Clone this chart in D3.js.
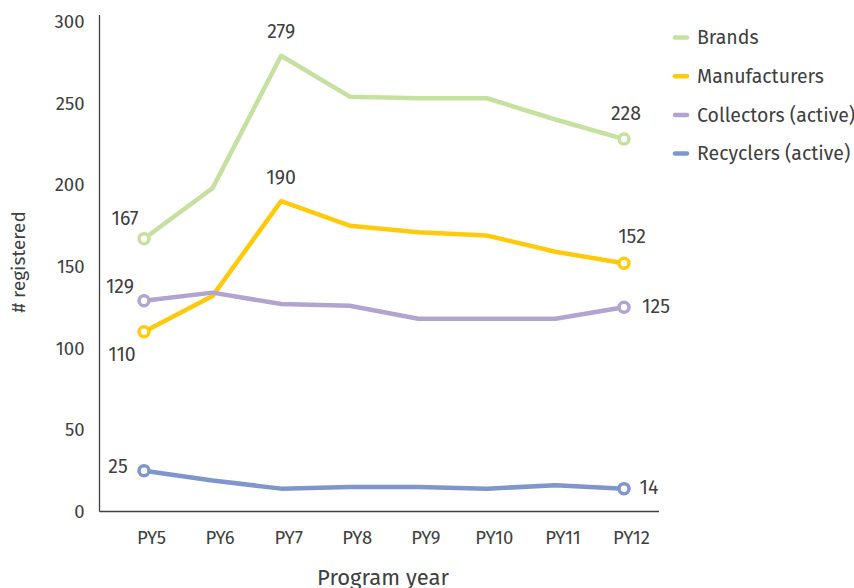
<!DOCTYPE html>
<html>
<head>
<meta charset="utf-8">
<script src="https://cdn.jsdelivr.net/npm/d3@7"></script>
<style>
	body { margin: 0; background: #fff; }
	svg text { font-family: "Fira Sans", "Noto Sans", "Open Sans", sans-serif; fill: #404040; }
</style>
</head>
<body>
<svg id="chart" width="854" height="588"></svg>
<script>
// ---- data ----
var years = ["PY5", "PY6", "PY7", "PY8", "PY9", "PY10", "PY11", "PY12"];
var seriesNames = ["Brands", "Manufacturers", "Collectors (active)", "Recyclers (active)"];
var brands        = [167, 198, 279, 254, 253, 253, 240, 228];
var manufacturers = [110, 132, 190, 175, 171, 169, 159, 152];
var collectors    = [129, 134, 127, 126, 118, 118, 118, 125];
var recyclers     = [25, 19, 14, 15, 15, 14, 16, 14];
var yTicks = [0, 50, 100, 150, 200, 250, 300];

// which points get a value label
var labelled = [
	[0, 2, 7],
	[0, 2, 7],
	[0, 7],
	[0, 7]
];

var colors = ["#c6e0a0", "#ffca0c", "#b2a4d0", "#7e96cc"];

// label placement (dx, dy relative to the point), per series, per labelled index
var labelOffset = [
	{0: [-19, -21], 2: [0, -25], 7: [2, -26]},
	{0: [-22, 22], 2: [0, -24], 7: [8, -27]},
	{0: [-24, -15], 7: [32, -1]},
	{0: [-26, -4], 7: [25, -1]}
];

var allSeries = [brands, manufacturers, collectors, recyclers];

var svg = d3.select("#chart");

// scales
var x = d3.scalePoint().domain(years).range([144, 624]);
var y = d3.scaleLinear().domain([0, 300]).range([511.5, 21.5]);

// y axis
var yAxis = svg.append("g")
	.attr("transform", "translate(99.5,0)")
	.call(d3.axisLeft(y).tickValues(yTicks).tickSize(0).tickPadding(15));
yAxis.select(".domain").remove();
yAxis.selectAll("text").style("font-size", "18.5px");
svg.append("line")
	.attr("x1", 99.5).attr("x2", 99.5)
	.attr("y1", 15).attr("y2", y(0))
	.attr("stroke", "#404040").attr("stroke-width", 1.3);

// x axis
var xAxis = svg.append("g")
	.attr("transform", "translate(0," + y(0) + ")")
	.call(d3.axisBottom(x).tickSize(0).tickPadding(19));
xAxis.select(".domain").remove();
xAxis.selectAll("text").style("font-size", "18.5px").attr("dx", 7);
svg.append("line")
	.attr("x1", 99.5).attr("x2", 659)
	.attr("y1", y(0)).attr("y2", y(0))
	.attr("stroke", "#404040").attr("stroke-width", 1.3);

// axis titles
svg.append("text")
	.attr("transform", "translate(25,262) rotate(-90)")
	.attr("text-anchor", "middle")
	.style("font-size", "19px")
	.text("# registered");
svg.append("text")
	.attr("x", 383)
	.attr("y", 584.5)
	.attr("text-anchor", "middle")
	.style("font-size", "22px")
	.text("Program year");

// lines
var line = d3.line()
	.x(function(d, i) { return x(years[i]); })
	.y(function(d) { return y(d); });

allSeries.forEach(function(vals, s) {
	svg.append("path")
		.datum(vals)
		.attr("fill", "none")
		.attr("stroke", colors[s])
		.attr("stroke-width", 4.5)
		.attr("stroke-linejoin", "round")
		.attr("d", line);
});

// end markers and value labels
allSeries.forEach(function(vals, s) {
	var ends = [0, vals.length - 1];
	svg.selectAll("circle.m" + s)
		.data(ends)
		.enter()
		.append("circle")
		.attr("class", "m" + s)
		.attr("cx", function(i) { return x(years[i]); })
		.attr("cy", function(i) { return y(vals[i]); })
		.attr("r", 5)
		.attr("fill", "#fff")
		.attr("stroke", colors[s])
		.attr("stroke-width", 3.5);

	svg.selectAll("text.v" + s)
		.data(labelled[s])
		.enter()
		.append("text")
		.attr("class", "v" + s)
		.attr("x", function(i) { return x(years[i]) + labelOffset[s][i][0]; })
		.attr("y", function(i) { return y(vals[i]) + labelOffset[s][i][1]; })
		.attr("dy", "0.35em")
		.attr("text-anchor", "middle")
		.style("font-size", "19.5px")
		.text(function(i) { return vals[i]; });
});

// legend
var legend = svg.selectAll("g.legend")
	.data(seriesNames)
	.enter()
	.append("g")
	.attr("class", "legend")
	.attr("transform", function(d, i) { return "translate(674," + (37.5 + i * 38.7) + ")"; });
legend.append("line")
	.attr("x1", 1).attr("x2", 13)
	.attr("stroke", function(d, i) { return colors[i]; })
	.attr("stroke-width", 4.5)
	.attr("stroke-linecap", "round");
legend.append("text")
	.attr("x", 23)
	.attr("dy", "0.35em")
	.style("font-size", "19.5px")
	.text(function(d) { return d; });
</script>
</body>
</html>
